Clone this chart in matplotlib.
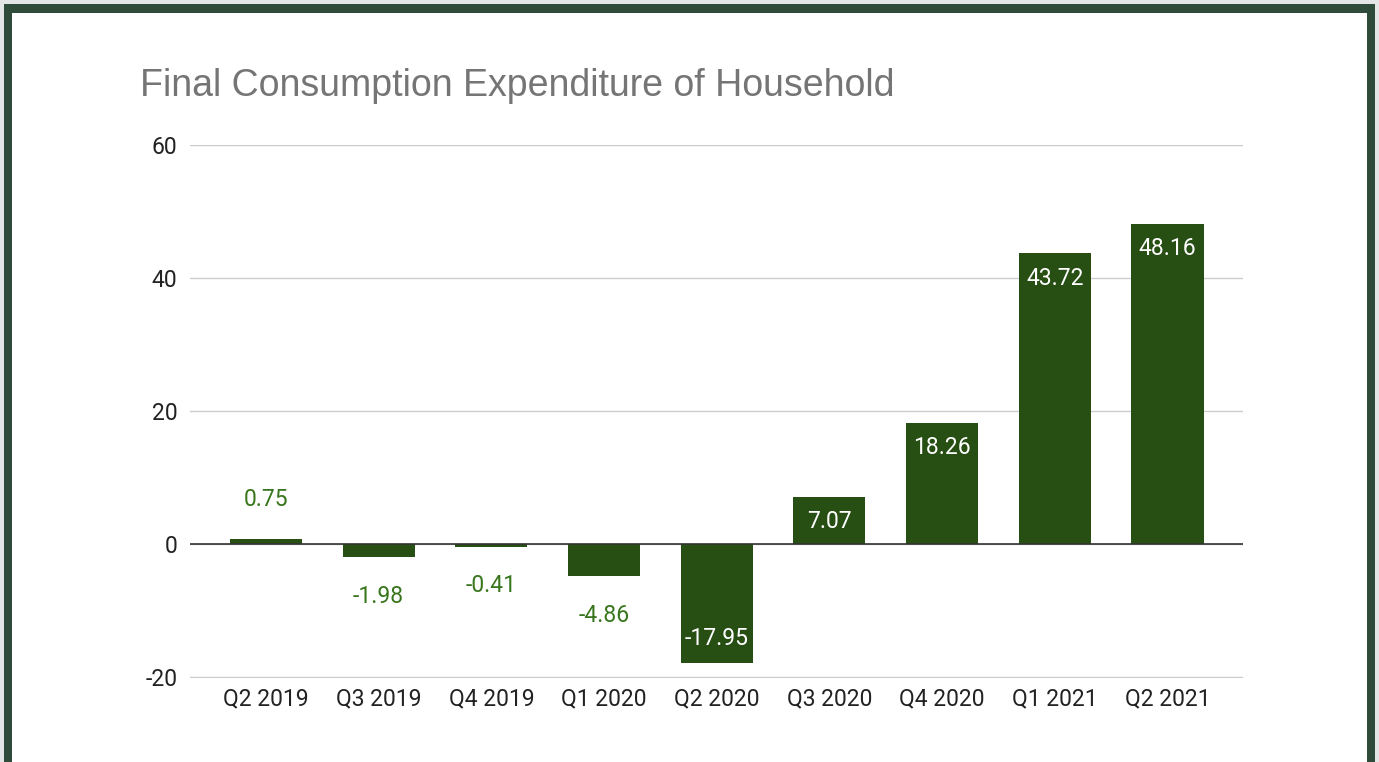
import matplotlib.pyplot as plt
from matplotlib.patches import Rectangle

quarters = ["Q2 2019", "Q3 2019", "Q4 2019", "Q1 2020", "Q2 2020",
            "Q3 2020", "Q4 2020", "Q1 2021", "Q2 2021"]
values = [0.75, -1.98, -0.41, -4.86, -17.95, 7.07, 18.26, 43.72, 48.16]
yticks = [-20, 0, 20, 40, 60]

bar_color = "#274e13"
label_color = "#38761d"

plt.rcParams['font.family'] = ['Roboto', 'DejaVu Sans']
plt.rcParams['axes.unicode_minus'] = False

W, H = 1379, 762
fig = plt.figure(figsize=(W / 100, H / 100), dpi=100)
fig.patch.set_facecolor("#e4e6e5")

# dark green frame, then white card inside it
fig.patches.append(Rectangle((4 / W, 0), (1375 - 4) / W, (H - 4) / H,
                             transform=fig.transFigure, facecolor="#2f4b3a",
                             edgecolor="none", zorder=-2))
fig.patches.append(Rectangle((12 / W, 0), (1367 - 12) / W, (H - 13) / H,
                             transform=fig.transFigure, facecolor="white",
                             edgecolor="none", zorder=-1))

ax = fig.add_axes([190 / W, 1 - 678 / H, (1243 - 190) / W, (678 - 145) / H])
ax.set_facecolor("white")

x = range(len(quarters))
ax.bar(x, values, width=0.64, color=bar_color, zorder=3)

fs = 16.5
for i, v in enumerate(values):
    txt = f"{v:.2f}"
    if v >= 5:
        ax.text(i, v - 3.75, txt, ha="center", va="center", color="white", fontsize=fs, zorder=5)
    elif v <= -10:
        ax.text(i, v + 3.7, txt, ha="center", va="center", color="white", fontsize=fs, zorder=5)
    elif v >= 0:
        ax.text(i, v + 5.9, txt, ha="center", va="center", color=label_color, fontsize=fs)
    else:
        ax.text(i, v - 5.9, txt, ha="center", va="center", color=label_color, fontsize=fs)

ax.set_ylim(-20.15, 60)
ax.set_xlim(-0.674, 8.67)
ax.set_yticks(yticks)
ax.set_xticks(list(x))
ax.set_xticklabels(quarters)
ax.grid(axis="y", color="#cccccc", linewidth=1, zorder=0)
ax.axhline(0, color="#333333", linewidth=1.2, zorder=4)
for s in ax.spines.values():
    s.set_visible(False)
ax.tick_params(length=0, labelsize=fs, labelcolor="#222222")
ax.tick_params(axis="y", pad=9)
ax.tick_params(axis="x", pad=7)

fig.text(140 / W, 1 - 86 / H, "Final Consumption Expenditure of Household",
         fontsize=27, color="#757575", va="center", ha="left",
         family=["Liberation Sans", "DejaVu Sans"])

fig.savefig("out.png", dpi=100, facecolor=fig.get_facecolor())
